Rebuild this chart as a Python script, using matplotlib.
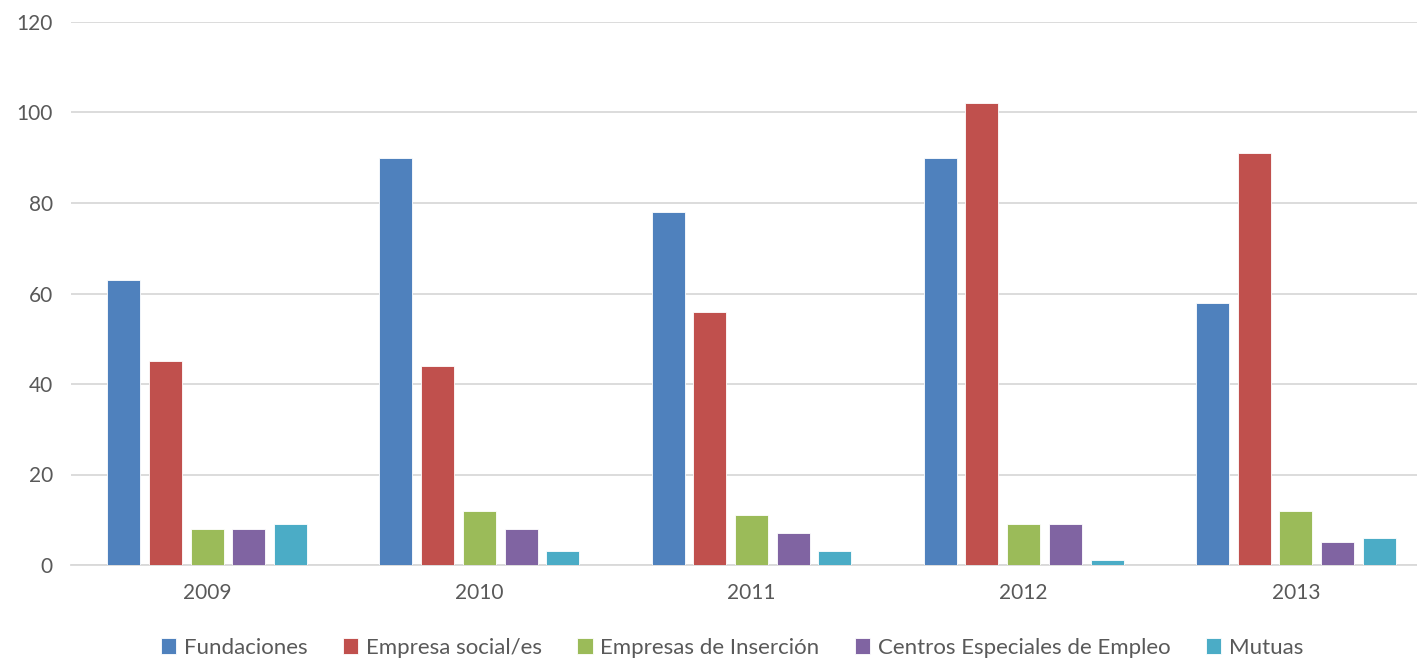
import matplotlib
matplotlib.use("Agg")
import matplotlib.pyplot as plt
import numpy as np

years = ["2009", "2010", "2011", "2012", "2013"]
series_names = ["Fundaciones", "Empresa social/es", "Empresas de Inserción",
                "Centros Especiales de Empleo", "Mutuas"]
fundaciones = [63, 90, 78, 90, 58]
empresa_social = [45, 44, 56, 102, 91]
empresas_insercion = [8, 12, 11, 9, 12]
centros_especiales = [8, 8, 7, 9, 5]
mutuas = [9, 3, 3, 1, 6]
colors = ["#4F81BD", "#C0504D", "#9BBB59", "#8064A2", "#4BACC6"]

data = [fundaciones, empresa_social, empresas_insercion, centros_especiales, mutuas]

plt.rcParams['font.family'] = ['Lato', 'DejaVu Sans']
W, H = 1417, 661
fig = plt.figure(figsize=(W/100, H/100), dpi=100)
left = 71 / W
width = 1361 / W
bottom = (H - 565) / H
top = (H - 22) / H
ax = fig.add_axes([left, bottom, width, top - bottom])

x = np.arange(len(years))
bw = 33 / 272.25
step = 41.75 / 272.25
for i, (vals, c, name) in enumerate(zip(data, colors, series_names)):
    ax.bar(x + (i - 2) * step, vals, width=bw, color=c, label=name,
           edgecolor="white", linewidth=0.6, zorder=3)

ax.set_xlim(-0.5, 4.5)
ax.set_ylim(0, 120)
ax.set_yticks(range(0, 121, 20))
ax.set_xticks(x)
ax.set_xticklabels(years)
ax.grid(axis="y", color="#D9D9D9", linewidth=1.3, zorder=0)
for s in ["top", "right", "left"]:
    ax.spines[s].set_visible(False)
ax.spines["bottom"].set_color("#D9D9D9")
ax.spines["bottom"].set_linewidth(1.3)
ax.tick_params(axis="both", length=0, labelsize=15, colors="#595959")
ax.tick_params(axis="x", pad=13)
ax.tick_params(axis="y", pad=13)

handles, labels = ax.get_legend_handles_labels()
fig.legend(handles, labels, loc="center", bbox_to_anchor=(732 / W, 1 - 648 / H),
           ncol=5, frameon=False, fontsize=16, labelcolor="#595959",
           handlelength=0.7, handleheight=0.7, handletextpad=0.35,
           columnspacing=1.58)

fig.savefig("out.png", dpi=100)
